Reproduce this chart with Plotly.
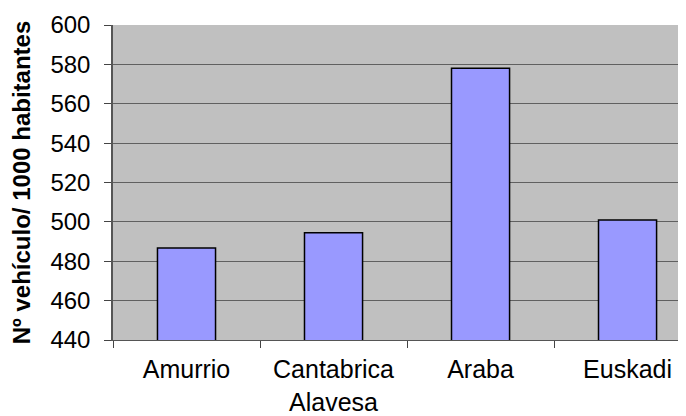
import plotly.graph_objects as go

categories = ["Amurrio", "Cantabrica<br>Alavesa", "Araba", "Euskadi"]
values = [486.7, 494.5, 578.0, 501.0]
y_title = "Nº vehículo/ 1000 habitantes"

fig = go.Figure(
    go.Bar(
        x=categories,
        y=values,
        marker=dict(color="#9999ff", line=dict(color="black", width=1.5)),
    )
)

fig.update_layout(
    width=686,
    height=416,
    margin=dict(l=105, r=0, t=17, b=84),
    paper_bgcolor="white",
    plot_bgcolor="#c0c0c0",
    bargap=0.605,
    showlegend=False,
    font=dict(family="Liberation Sans, Arial, sans-serif", size=24, color="black"),
)

fig.update_xaxes(
    type="category",
    range=[-0.5, 3.452],
    tickson="boundaries",
    ticks="outside",
    ticklen=7,
    tickcolor="#444",
    showline=True,
    linecolor="#555",
    linewidth=1,
    showgrid=False,
    ticklabelstandoff=7,
    tickfont=dict(size=25),
)

fig.update_yaxes(
    range=[440, 600],
    dtick=20,
    tick0=440,
    ticks="outside",
    ticklen=7,
    tickcolor="#444",
    showline=True,
    linecolor="#555",
    linewidth=1.5,
    gridcolor="#606060",
    gridwidth=1,
    zeroline=False,
    ticklabelstandoff=9,
    tickfont=dict(size=24),
    title=dict(text="<b>" + y_title + "</b>", font=dict(size=24), standoff=16),
)

fig.write_html("out.html")
